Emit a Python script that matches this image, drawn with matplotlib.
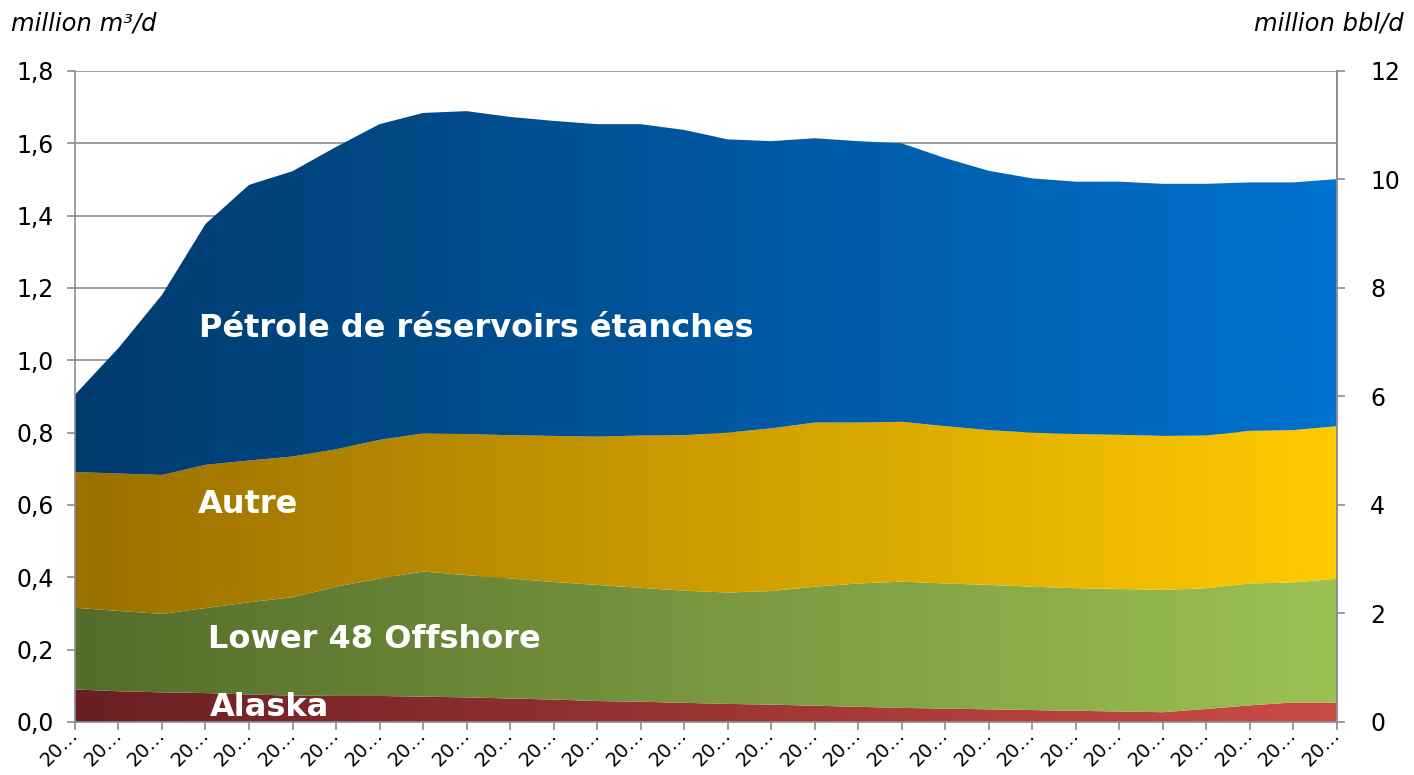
import numpy as np
import matplotlib
matplotlib.use("Agg")
import matplotlib.pyplot as plt
from matplotlib.colors import LinearSegmentedColormap

# years shown on the category axis (labels are truncated to "20…" in the original)
years = list(range(2011, 2041))
tick_labels = [str(y)[:2] + "\u2026" for y in years]

# million m3/d
alaska = [0.090, 0.085, 0.082, 0.080, 0.076, 0.073, 0.072, 0.072, 0.070, 0.068,
          0.065, 0.062, 0.058, 0.056, 0.053, 0.050, 0.048, 0.045, 0.042, 0.039,
          0.037, 0.035, 0.033, 0.031, 0.029, 0.027, 0.036, 0.046, 0.054, 0.054]
offshore = [0.226, 0.222, 0.217, 0.235, 0.255, 0.272, 0.302, 0.325, 0.346, 0.338,
            0.332, 0.325, 0.321, 0.315, 0.310, 0.308, 0.314, 0.329, 0.341, 0.349,
            0.346, 0.344, 0.341, 0.339, 0.339, 0.338, 0.334, 0.337, 0.332, 0.342]
autre = [0.375, 0.380, 0.384, 0.396, 0.392, 0.389, 0.380, 0.383, 0.382, 0.390,
         0.396, 0.404, 0.410, 0.421, 0.430, 0.442, 0.450, 0.454, 0.445, 0.442,
         0.435, 0.428, 0.426, 0.426, 0.426, 0.426, 0.422, 0.422, 0.421, 0.422]
tight_oil = [0.214, 0.347, 0.498, 0.666, 0.762, 0.789, 0.836, 0.873, 0.886, 0.893,
             0.880, 0.871, 0.864, 0.861, 0.844, 0.811, 0.794, 0.786, 0.778, 0.770,
             0.741, 0.717, 0.703, 0.698, 0.700, 0.697, 0.696, 0.687, 0.685, 0.683]

series = [alaska, offshore, autre, tight_oil]
names = ["Alaska", "Lower 48 Offshore", "Autre", "Pétrole de réservoirs étanches"]
# left (dark) -> right (light) gradient per layer
grads = [("#6b1f22", "#cb4b46"),
         ("#546d2b", "#9cc153"),
         ("#9a7000", "#ffca00"),
         ("#003b6e", "#0072cf")]
label_pos = [(3.1, 0.039), (3.05, 0.227), (2.83, 0.60), (2.85, 1.089)]

plt.rcParams["font.family"] = ["DejaVu Sans"]
grid_col = "#8c8c8c"

fig = plt.figure(figsize=(14.14, 7.75), dpi=100)
ax = fig.add_axes([0.053, 0.0684, 0.8925, 0.84])

x = np.arange(len(years))
ymax = 1.8
lower = np.zeros(len(years))
for vals, (c0, c1) in zip(series, grads):
    upper = lower + np.array(vals)
    poly = ax.fill_between(x, lower, upper, facecolor="none", edgecolor="none")
    cmap = LinearSegmentedColormap.from_list("g", [c0, c1])
    img = ax.imshow(np.linspace(0, 1, 256)[None, :], cmap=cmap, aspect="auto",
                    extent=(x[0], x[-1], 0, ymax), origin="lower",
                    interpolation="bilinear", zorder=2)
    img.set_clip_path(poly.get_paths()[0], ax.transData)
    lower = upper

for name, (tx, ty) in zip(names, label_pos):
    ax.text(tx, ty, name, color="white", fontsize=23, fontweight="bold",
            ha="left", va="center", zorder=5)

ax.set_xlim(x[0], x[-1])
ax.set_ylim(0, ymax)
ax.set_yticks(np.arange(0, 1.81, 0.2))
ax.set_yticklabels([f"{v:.1f}".replace(".", ",") for v in np.arange(0, 1.81, 0.2)])
ax.yaxis.grid(True, color=grid_col, lw=1.2, zorder=0)
ax.set_axisbelow(True)
ax.set_xticks(x)
ax.set_xticklabels(tick_labels, rotation=45, ha="right", va="center",
                   rotation_mode="anchor")
ax.tick_params(axis="x", length=6, width=1.2, color=grid_col, labelsize=14, pad=1)
ax.tick_params(axis="y", length=6, width=1.2, color=grid_col, labelsize=17, pad=9)
ax.spines["top"].set_visible(False)
for side in ["left", "right", "bottom"]:
    ax.spines[side].set_color(grid_col)
    ax.spines[side].set_linewidth(1.2)
    ax.spines[side].set_zorder(6)

ax2 = ax.twinx()
ax2.set_ylim(0, 12)
ax2.set_yticks(range(0, 13, 2))
ax2.tick_params(axis="y", length=6, width=1.2, color=grid_col, labelsize=17, pad=18)
for side in ["top", "left", "bottom"]:
    ax2.spines[side].set_visible(False)
ax2.spines["right"].set_color(grid_col)
ax2.spines["right"].set_linewidth(1.2)

fig.text(0.008, 0.97, "million m³/d", fontsize=17.5, style="italic", va="center", ha="left")
fig.text(0.993, 0.97, "million bbl/d", fontsize=17.5, style="italic", va="center", ha="right")

fig.savefig("out.png", dpi=100)
